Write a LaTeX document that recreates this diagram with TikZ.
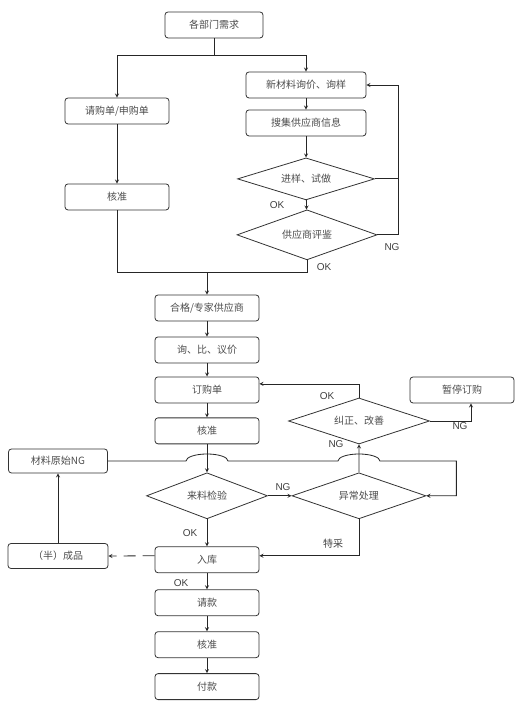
\documentclass[tikz,border=0pt]{standalone}
\usepackage{fontspec}
\setmainfont{Noto Sans CJK SC}
\newfontfamily\labfont{Liberation Sans}
\usetikzlibrary{shapes.geometric, arrows, calc}
\tikzstyle{process} = [rectangle, rounded corners=3pt, minimum width=104pt, minimum height=26pt, text centered, draw=black!80, line width=0.8pt, text=black!70, font=\fontsize{10}{12}\selectfont]
\tikzstyle{decision} = [diamond, aspect=3, inner sep=0pt, minimum width=136pt, minimum height=46pt, text centered, draw=black!80, line width=0.8pt, text=black!70, font=\fontsize{10}{12}\selectfont]
\tikzstyle{arrow} = [line width=0.8pt, draw=black!85, ->, >=stealth]
\tikzstyle{line} = [line width=0.8pt, draw=black!85]
\tikzstyle{tag} = [font=\labfont\fontsize{10}{12}\selectfont, text=black!75]
\tikzstyle{cntag} = [font=\fontsize{10}{12}\selectfont, text=black!75]

\begin{document}
\begin{tikzpicture}
		\useasboundingbox (0,0) rectangle (522pt,709pt);
		\node (need) [process, minimum width=98pt] at (214pt,684pt) {各部门需求};
		\node (qgd) [process] at (117pt,598pt) {请购单/申购单};
		\node (hz1) [process, below of = qgd, yshift = -57.5pt] {核准};
		\node (xcl) [process, minimum width=120pt] at (306pt,624pt) {新材料询价、询样};
		\node (sj) [process, minimum width=120pt, below of = xcl, yshift = -9.5pt] {搜集供应商信息};
		\node (jy) [decision, minimum width=137pt, minimum height=42pt, below of = sj, yshift = -27.5pt] {进样、试做};
		\node (pj) [decision, minimum width=140pt, minimum height=50pt, below of = jy, xshift = 1pt, yshift = -27.5pt] {供应商评鉴};
		\node (hg) [process] at (207pt,401pt) {合格/专家供应商};
		\node (xbj) [process, below of = hg, yshift = -13.5pt] {询、比、议价};
		\node (dgd) [process, below of = xbj, yshift = -11.5pt] {订购单};
		\node (hz2) [process, below of = dgd, yshift = -12.5pt] {核准};
		\node (ll) [decision, minimum width=121pt, below of = hz2, yshift = -36.5pt] {来料检验};
		\node (yc) [decision, minimum width=134pt, right of = ll, xshift = 123.5pt] {异常处理};
		\node (jz) [decision, minimum width=141pt] at (359pt,288pt) {纠正、改善};
		\node (zt) [process] at (462pt,319pt) {暂停订购};
		\node (ng) [process, minimum width=99pt, minimum height=24pt] at (58pt,248pt) {材料原始NG};
		\node (rk) [process, below of = ll, yshift = -35.5pt] {入库};
		\node (bcp) [process, minimum width=100pt, minimum height=25pt] at (58pt,153pt) {（半）成品};
		\node (qk) [process, below of = rk, yshift = -14.5pt] {请款};
		\node (hz3) [process, below of = qk, yshift = -13.5pt] {核准};
		\node (fk) [process, below of = hz3, yshift = -13.5pt] {付款};

		% top split
		\coordinate (split) at ([yshift=-17pt]need.south);
		\draw [line] (need.south) -- (split);
		\draw [arrow] (split) -| (qgd.north);
		\draw [arrow] (split) -| (xcl.north);
		\draw [arrow] (qgd) -- (hz1);
		\draw [arrow] (xcl) -- (sj);
		\draw [arrow] (sj) -- (jy);
		\draw [arrow] (jy) -- (pj);
		\node (okA) [tag] at (277pt,504pt) {OK};

		% NG loop back
		\coordinate (ngtop) at ([xshift=32pt]xcl.east);
		\draw [line] (jy.east) -- (jy.east -| ngtop);
		\draw [arrow] (pj.east) -| (ngtop) -- (xcl.east);
		\node (ngA) [tag] at (392pt,462pt) {NG};

		% merge
		\coordinate (merge) at ([yshift=22pt]hg.north);
		\draw [line] (hz1.south) |- (merge);
		\draw [line] (pj.south) |- (merge);
		\draw [arrow] (merge) -- (hg.north);
		\node (okB) [tag] at (324pt,442pt) {OK};

		\draw [arrow] (hg) -- (xbj);
		\draw [arrow] (xbj) -- (dgd);
		\draw [arrow] (dgd) -- (hz2);
		\draw [arrow] (hz2) -- (ll);

		% correction
		\draw [arrow] (jz.north) |- ([yshift=6pt]dgd.east);
		\node (okC) [tag] at (327pt,313pt) {OK};
		\draw [arrow] (jz.east) -| ([xshift=9pt]zt.south);
		\node (ngB) [tag] at (460pt,283pt) {NG};
		\draw [arrow] (yc.north) -- (jz.south);
		\node (ngC) [tag] at (336pt,265pt) {NG};

		% raw material NG line with hops
		\coordinate (hopa) at (ll.north |- ng.east);
		\coordinate (hopb) at (yc.north |- ng.east);
		\coordinate (ngr) at ($(yc.east |- ng.east)+(30pt,0)$);
		\draw [arrow] (ng.east) -- ([xshift=-21pt]hopa) arc [start angle=180, end angle=0, x radius=21pt, y radius=7pt] -- ([xshift=-21pt]hopb) arc [start angle=180, end angle=0, x radius=21pt, y radius=7pt] -- (ngr) |- (yc.east);

		\draw [arrow] (ll.east) -- (yc.west);
		\node (ngD) [tag] at (283pt,222pt) {NG};
		\draw [arrow] (ll.south) -- (rk.north);
		\node (okD) [tag] at (190pt,176pt) {OK};
		\draw [arrow] (yc.south) |- ([yshift=4pt]rk.east);
		\node (tc) [cntag] at (333pt,165pt) {特采};
		\draw [arrow, dash pattern=on 12pt off 7pt] ([yshift=4pt]rk.west) -- (bcp.east);
		\draw [arrow] (bcp.north) -- (ng.south);

		\draw [arrow] (rk) -- (qk);
		\node (okE) [tag] at (181pt,126pt) {OK};
		\draw [arrow] (qk) -- (hz3);
		\draw [arrow] (hz3) -- (fk);
	\end{tikzpicture}
\end{document}
